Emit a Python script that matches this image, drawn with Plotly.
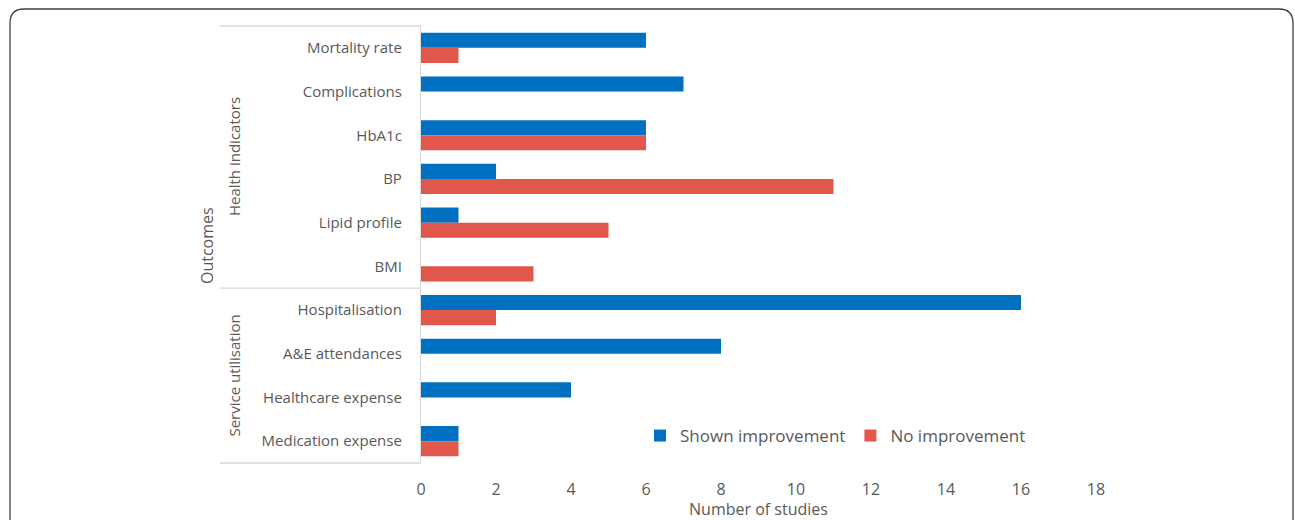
import plotly.graph_objects as go

categories = ["Mortality rate", "Complications", "HbA1c", "BP", "Lipid profile", "BMI",
              "Hospitalisation", "A&E attendances", "Healthcare expense", "Medication expense"]
shown_improvement = [6, 7, 6, 2, 1, 0, 16, 8, 4, 1]
no_improvement = [1, 0, 6, 11, 5, 3, 2, 0, 0, 1]
x_ticks = [0, 2, 4, 6, 8, 10, 12, 14, 16, 18]
groups = ["Health indicators", "Service utilisation"]

W, H = 1295, 520
L, R, T, B = 421, 199, 26, 57
pw, ph = W - L - R, H - T - B

def px(x):
    return (x - L) / pw

def py(y):
    return (H - B - y) / ph

TXT = "#595959"
FONT = "Open Sans"

fig = go.Figure()
fig.add_trace(go.Bar(y=categories, x=shown_improvement, orientation="h", name="Shown improvement",
                     marker=dict(color="#0070C0", line=dict(width=0))))
fig.add_trace(go.Bar(y=categories, x=no_improvement, orientation="h", name="No improvement",
                     marker=dict(color="#E2574C", line=dict(width=0))))

shapes = []
line_style = dict(color="#D9D9D9", width=1.3)
for yv in [1.0, 0.4, 0.0]:
    shapes.append(dict(type="line", xref="paper", yref="paper", x0=px(220), x1=0, y0=yv, y1=yv,
                       line=line_style, layer="below"))

# outer rounded frame (open at the bottom)
x0, x1, ytop, ybot = px(10), px(1293), py(9), py(540)
rx, ry = 14 / pw, 14 / ph
path = (f"M {x0} {ybot} L {x0} {ytop - ry} Q {x0} {ytop} {x0 + rx} {ytop} L {x1 - rx} {ytop} "
        f"Q {x1} {ytop} {x1} {ytop - ry} L {x1} {ybot}")
shapes.append(dict(type="path", xref="paper", yref="paper", path=path,
                   line=dict(color="#404040", width=1.3)))

annotations = [
    dict(text="Outcomes", x=px(207), y=py(245), xref="paper", yref="paper", textangle=-90,
         xanchor="center", yanchor="middle",
         showarrow=False, font=dict(size=16, color=TXT, family=FONT)),
    dict(text=groups[0], x=px(234), y=0.7, xref="paper", yref="paper", textangle=-90,
         xanchor="center", yanchor="middle",
         showarrow=False, font=dict(size=15, color=TXT, family=FONT)),
    dict(text=groups[1], x=px(234), y=0.2, xref="paper", yref="paper", textangle=-90,
         xanchor="center", yanchor="middle",
         showarrow=False, font=dict(size=15, color=TXT, family=FONT)),
]

fig.update_layout(
    width=W, height=H,
    margin=dict(l=L, r=R, t=T, b=B, pad=0, autoexpand=False),
    paper_bgcolor="white", plot_bgcolor="white",
    barmode="group", bargap=0.31, bargroupgap=0,
    font=dict(family=FONT, color=TXT, size=15),
    showlegend=True,
    legend=dict(orientation="h", x=px(640), y=py(436), xanchor="left", yanchor="middle",
                font=dict(size=17, color=TXT, family=FONT), bgcolor="rgba(0,0,0,0)",
                itemwidth=30, traceorder="normal"),
    shapes=shapes, annotations=annotations,
    xaxis=dict(range=[0, 18], tickvals=x_ticks, showgrid=False, zeroline=False, showline=False,
               automargin=False,
               ticks="", tickfont=dict(size=16, color=TXT), ticklabelstandoff=15,
               title=dict(text="Number of studies", font=dict(size=16, color=TXT), standoff=5)),
    yaxis=dict(autorange="reversed", showgrid=False, zeroline=False, showline=True,
               automargin=False,
               linecolor="#D9D9D9", linewidth=1.3, ticks="", tickfont=dict(size=15, color=TXT),
               ticklabelstandoff=15),
)

fig.write_html("out.html")
